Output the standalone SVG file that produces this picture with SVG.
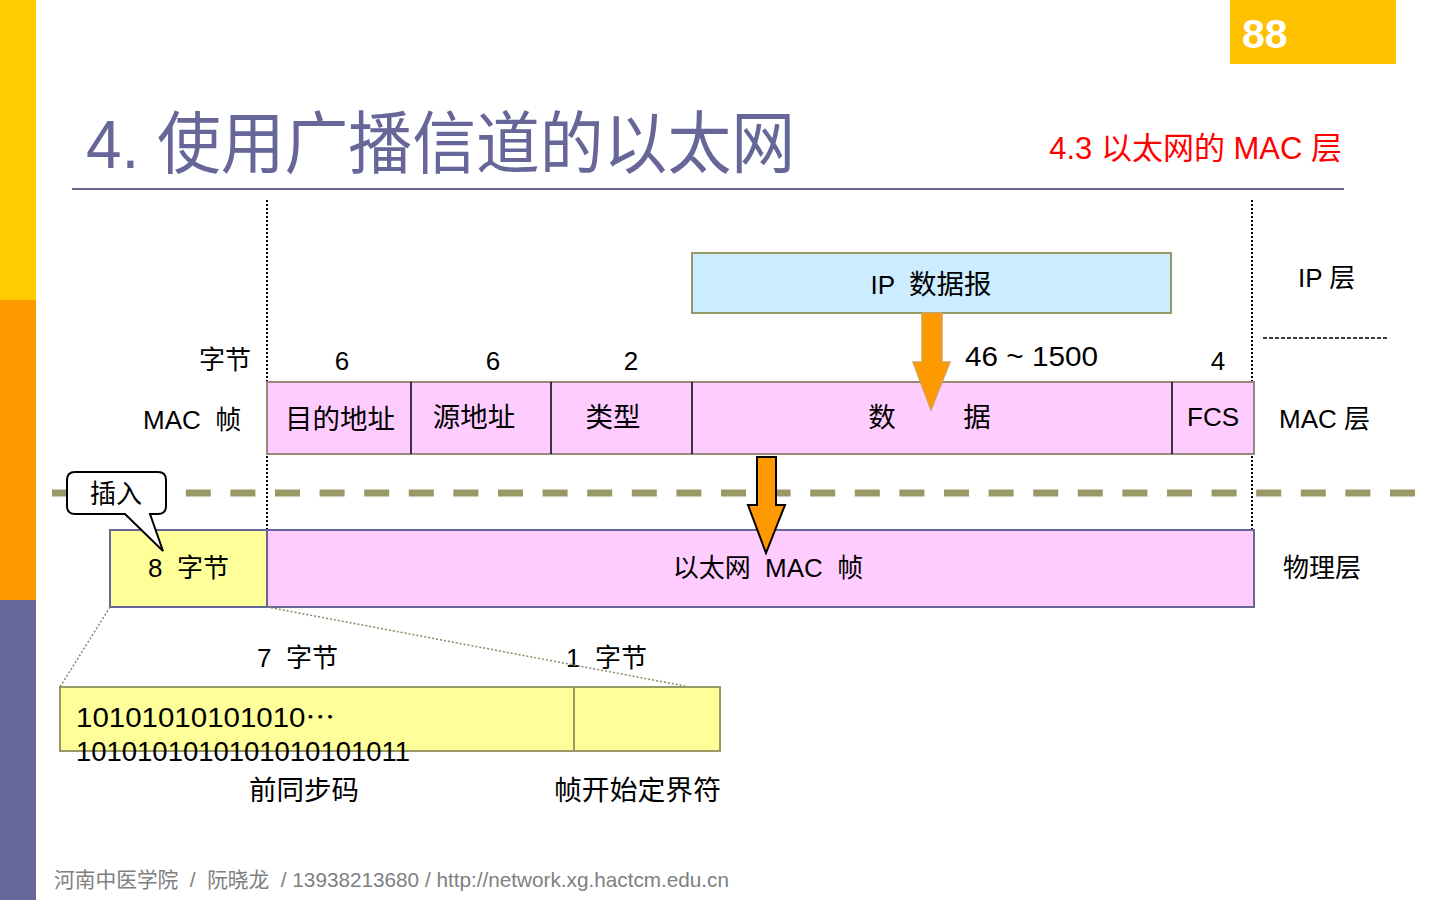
<svg xmlns="http://www.w3.org/2000/svg" width="1440" height="900" viewBox="0 0 1440 900">
<style>
text{font-family:"Liberation Sans","Noto Sans CJK SC",sans-serif;fill:#000;white-space:pre}
.t{font-size:26px}
.z{font-size:27.5px}
.c{text-anchor:middle}
.pink{fill:#FFCCFF}
.yel{fill:#FFFF99}
.div{stroke:#000;stroke-width:1.5}
.vdot{stroke:#000;stroke-width:2;stroke-dasharray:2 2;fill:none}
.gdot{stroke:#888866;stroke-width:1.5;stroke-dasharray:2 2;fill:none}
</style>
<rect width="1440" height="900" fill="#fff"/>
<g id="sidebar">
<rect x="0" y="0" width="36" height="300" fill="#FFCC00"/>
<rect x="0" y="300" width="36" height="300" fill="#FF9900"/>
<rect x="0" y="600" width="36" height="300" fill="#666699"/>
</g>
<g id="page-number">
<rect x="1230" y="0" width="166" height="64" fill="#FFC000"/>
<text x="1242" y="48" style="font-size:41px;font-weight:bold;fill:#fff">88</text>
</g>
<g id="title">
<text x="86" y="168" style="font-size:68px;fill:#666699" textLength="709" lengthAdjust="spacingAndGlyphs">4. 使用广播信道的以太网</text>
<text x="1342" y="159" style="font-size:31px;fill:#FF0000;text-anchor:end">4.3 以太网的 MAC 层</text>
<line x1="72" y1="189" x2="1344" y2="189" stroke="#666688" stroke-width="2"/>
</g>
<g id="guides">
<line class="vdot" x1="267" y1="200" x2="267" y2="530"/>
<line class="vdot" x1="1252" y1="200" x2="1252" y2="530"/>
<line x1="1263" y1="338" x2="1388" y2="338" stroke="#000" stroke-width="1.5" stroke-dasharray="4 2"/>
<line x1="52" y1="493" x2="1420" y2="493" stroke="#999966" stroke-width="7" stroke-dasharray="25 19.6"/>
</g>
<g id="ip-datagram">
<rect x="692" y="253" width="479" height="60" fill="#CCECFF" stroke="#999966" stroke-width="2"/>
<text class="t c" x="931" y="294">IP  <tspan style="font-size:27.5px">数据报</tspan></text>
</g>
<g id="mac-frame">
<rect class="pink" x="267" y="382" width="987" height="72" stroke="#998877" stroke-width="2"/>
<line class="div" x1="411" y1="382" x2="411" y2="454"/>
<line class="div" x1="551" y1="382" x2="551" y2="454"/>
<line class="div" x1="692" y1="382" x2="692" y2="454"/>
<line class="div" x1="1172" y1="382" x2="1172" y2="454"/>
<text class="z c" x="340" y="429">目的地址</text>
<text class="z c" x="474" y="427">源地址</text>
<text class="z c" x="613" y="427">类型</text>
<text class="z c" x="882" y="427">数</text>
<text class="z c" x="977" y="427">据</text>
<text class="t c" x="1213" y="426">FCS</text>
</g>
<g id="byte-labels">
<text class="t" x="251" y="369" style="text-anchor:end">字节</text>
<text class="t c" x="342" y="370">6</text>
<text class="t c" x="493" y="370">6</text>
<text class="t c" x="631" y="370">2</text>
<text x="965" y="366" style="font-size:27.5px" textLength="133" lengthAdjust="spacingAndGlyphs">46 ~ 1500</text>
<text class="t c" x="1218" y="370">4</text>
<text class="t" x="143" y="429">MAC  帧</text>
</g>
<g id="layer-labels">
<text class="t" x="1298" y="287">IP 层</text>
<text class="t" x="1279" y="428">MAC 层</text>
<text class="t" x="1283" y="577">物理层</text>
</g>
<g id="physical-frame">
<rect class="yel" x="110" y="530" width="157" height="77" stroke="#666699" stroke-width="2"/>
<rect class="pink" x="267" y="530" width="987" height="77" stroke="#666699" stroke-width="2"/>
<text class="t" x="148" y="577">8  字节</text>
<text class="t c" x="768" y="577">以太网  MAC  帧</text>
</g>
<g id="insert-callout">
<path d="M75,472 H158 Q166,472 166,480 V506 Q166,514 158,514 H150 L163,551 L125,514 H75 Q67,514 67,506 V480 Q67,472 75,472 Z" fill="#fff" stroke="#000" stroke-width="2"/>
<text class="t c" x="116" y="503">插入</text>
</g>
<g id="preamble">
<rect class="yel" x="60" y="687" width="660" height="64" stroke="#999966" stroke-width="2"/>
<line x1="574" y1="687" x2="574" y2="751" stroke="#999966" stroke-width="2"/>
<text class="t" x="76" y="727" style="font-size:27px" textLength="259" lengthAdjust="spacingAndGlyphs">10101010101010<tspan style="font-family:'Noto Sans CJK SC',sans-serif">…</tspan></text>
<text class="t" x="76" y="761" style="font-size:27px" textLength="334" lengthAdjust="spacingAndGlyphs">1010101010101010101011</text>
<text class="t" x="257" y="667">7  字节</text>
<text class="t" x="566" y="667">1  字节</text>
<text class="z" x="249" y="800">前同步码</text>
<text class="z" x="554" y="800" textLength="167" lengthAdjust="spacingAndGlyphs">帧开始定界符</text>
</g>
<g id="connectors">
<path d="M922,313 H942 V362 H950 L931,410 L913,362 H922 Z" fill="#FF9900" stroke="#D9A050" stroke-width="1.5"/>
<path d="M757,457 H776 V505 H785 L766,553 L748,505 H757 Z" fill="#FF9900" stroke="#000" stroke-width="2"/>
<line class="gdot" x1="110" y1="607" x2="60" y2="687"/>
<line class="gdot" x1="267" y1="607" x2="685" y2="686"/>
</g>
<g id="footer">
<text x="54" y="887" style="font-size:21px;fill:#808080" textLength="675" lengthAdjust="spacingAndGlyphs">河南中医学院  /  阮晓龙  / 13938213680 / http://network.xg.hactcm.edu.cn</text>
</g>
</svg>
